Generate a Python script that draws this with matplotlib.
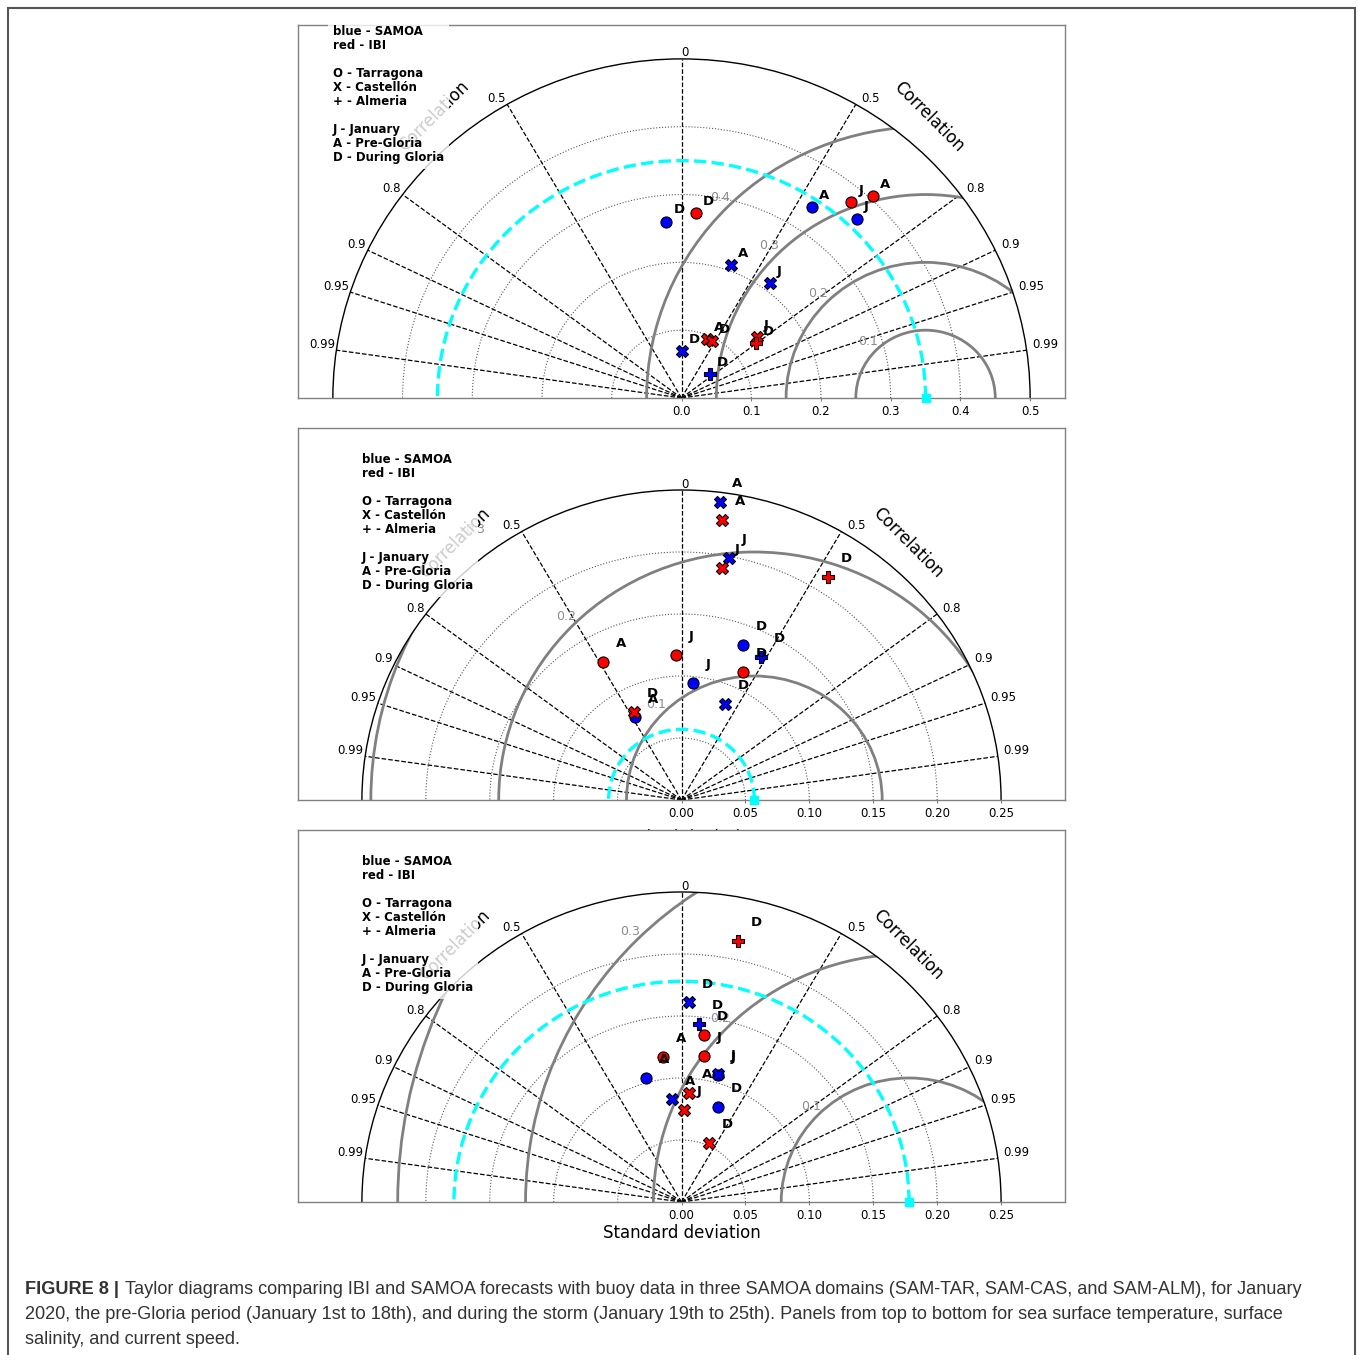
import numpy as np
import matplotlib
matplotlib.use("Agg")
import matplotlib.pyplot as plt
from matplotlib.patches import Arc, Circle, Wedge, Rectangle
from matplotlib.ticker import FormatStrFormatter

# order of the points in every panel
stations = ['Tarragona'] * 6 + ['Castellon'] * 6 + ['Almeria'] * 2
models = ['SAMOA', 'SAMOA', 'SAMOA', 'IBI', 'IBI', 'IBI'] * 2 + ['SAMOA', 'IBI']
periods = ['J', 'A', 'D'] * 4 + ['D', 'D']

# sea surface temperature
sst_std = [0.365, 0.338, 0.261, 0.378, 0.405, 0.274,
           0.212, 0.208, 0.069, 0.140, 0.094, 0.095,
           0.054, 0.134]
sst_corr = [0.689, 0.552, -0.083, 0.644, 0.677, 0.074,
            0.597, 0.343, 0.000, 0.769, 0.391, 0.460,
            0.750, 0.798]

# surface salinity
sal_std = [0.095, 0.076, 0.134, 0.117, 0.127, 0.114,
           0.199, 0.242, 0.085, 0.190, 0.228, 0.080,
           0.131, 0.213]
sal_corr = [0.097, -0.482, 0.360, -0.038, -0.485, 0.422,
            0.186, 0.123, 0.403, 0.166, 0.138, -0.463,
            0.473, 0.538]

# current speed
cur_std = [0.106, 0.104, 0.082, 0.119, 0.118, 0.136,
           0.107, 0.083, 0.161, 0.074, 0.088, 0.052,
           0.144, 0.215]
cur_corr = [0.269, -0.265, 0.349, 0.148, -0.120, 0.129,
            0.266, -0.088, 0.036, 0.024, 0.066, 0.407,
            0.093, 0.204]

ref_std = [0.35, 0.057, 0.178]
std_max = [0.5, 0.25, 0.25]
std_ticks = [[0.0, 0.1, 0.2, 0.3, 0.4, 0.5],
             [0.0, 0.05, 0.10, 0.15, 0.20, 0.25],
             [0.0, 0.05, 0.10, 0.15, 0.20, 0.25]]
tick_fmt = ['%.1f', '%.2f', '%.2f']
rms_levels = [0.1, 0.2, 0.3, 0.4]
corr_ticks = [0.0, 0.5, 0.8, 0.9, 0.95, 0.99]

marker_of = {'Tarragona': 'o', 'Castellon': 'X', 'Almeria': 'P'}
color_of = {'SAMOA': 'blue', 'IBI': 'red'}

legend_str = ("blue - SAMOA\nred - IBI\n\nO - Tarragona\nX - Castellón\n"
              "+ - Almeria\n\nJ - January\nA - Pre-Gloria\nD - During Gloria")

caption_head = "FIGURE 8 |"
caption_lines = [
    "Taylor diagrams comparing IBI and SAMOA forecasts with buoy data in three "
    "SAMOA domains (SAM-TAR, SAM-CAS, and SAM-ALM), for January",
    "2020, the pre-Gloria period (January 1st to 18th), and during the storm "
    "(January 19th to 25th). Panels from top to bottom for sea surface temperature, surface",
    "salinity, and current speed.",
]

W, H = 1358, 1355


def draw_taylor(ax, std, corr, ref, smax, ticks, fmt, margin, legend_top):
    """
Draws one half-circle Taylor diagram on a cartesian axes.
"""
    lim = margin * smax
    ax.set_xlim(-lim, lim)
    ax.set_ylim(0, lim)
    wedge = Wedge((0, 0), smax, 0, 180, transform=ax.transData)

    # standard deviation grid
    for t in ticks[1:-1]:
        ax.add_patch(Arc((0, 0), 2 * t, 2 * t, theta1=0, theta2=180,
                         color='0.35', ls=':', lw=0.8, zorder=1))
    ax.add_patch(Arc((0, 0), 2 * smax, 2 * smax, theta1=0, theta2=180,
                     color='k', lw=1.0, zorder=2))

    # correlation lines and labels
    for c in corr_ticks:
        for sign in (1, -1):
            if c == 0 and sign == -1:
                continue
            th = np.arccos(sign * c)
            xe, ye = smax * np.cos(th), smax * np.sin(th)
            ax.plot([0, xe], [0, ye], 'k--', lw=0.9, zorder=1.5)
            if sign == 1:
                dx, ha = (4 if c > 0 else 0), 'left'
            else:
                dx, ha = -1, 'right'
            ax.annotate(f'{c:g}', xy=(xe, ye), xytext=(dx, 4.3),
                        textcoords='offset points', ha=ha, va='center',
                        fontsize=8.5)
    ax.text(0.71 * smax, 0.83 * smax, 'Correlation', rotation=-45,
            ha='center', va='center', fontsize=12, zorder=3)
    ax.text(-0.71 * smax, 0.83 * smax, 'Correlation', rotation=45,
            ha='center', va='center', fontsize=12, zorder=3)

    # centred RMS difference contours
    for lev in rms_levels:
        ax.add_patch(Circle((ref, 0), lev, fill=False, ec='0.5', lw=2,
                            zorder=1.6, clip_path=wedge))
        d = lev + 0.035 * smax
        lx, ly = ref - d * np.cos(np.pi / 4), d * np.sin(np.pi / 4)
        cx, cy = ref - lev * np.cos(np.pi / 4), lev * np.sin(np.pi / 4)
        if np.hypot(cx, cy) < 1.1 * smax:
            ax.text(lx, ly, f'{lev:g}', color='0.55', fontsize=9,
                    ha='center', va='center', zorder=1.7)

    # reference
    ax.add_patch(Arc((0, 0), 2 * ref, 2 * ref, theta1=0, theta2=180,
                     color='cyan', ls='--', lw=2.4, zorder=2.2))
    ax.plot([ref], [0], 's', color='cyan', ms=6, clip_on=False, zorder=5)

    # models
    for s, c, st, mo, pe in zip(std, corr, stations, models, periods):
        th = np.arccos(c)
        x, y = s * np.cos(th), s * np.sin(th)
        ax.plot(x, y, marker=marker_of[st], color=color_of[mo], mec='k',
                mew=0.8, ms=8, ls='none', zorder=3)
        ax.text(x + 0.01, y + 0.012, pe, fontsize=9.5, fontweight='bold',
                ha='left', va='baseline', zorder=4)

    ax.text(-smax, legend_top * smax, legend_str, ha='left', va='top',
            fontsize=8.5, fontweight='bold', linespacing=1.1, zorder=10,
            bbox=dict(boxstyle='square,pad=0.4', fc='white', ec='none',
                      alpha=0.8))

    ax.set_xticks(ticks)
    ax.xaxis.set_major_formatter(FormatStrFormatter(fmt))
    ax.set_yticks([])
    ax.tick_params(axis='x', length=2, color='0.5', pad=3, labelsize=8.5)
    for sp in ax.spines.values():
        sp.set_color('0.5')
        sp.set_linewidth(1.0)


def main():
    """
Builds the three stacked Taylor diagrams and the caption.
"""
    fig = plt.figure(figsize=(W / 100, H / 100), dpi=100)
    panels = [(sst_std, sst_corr), (sal_std, sal_corr), (cur_std, cur_corr)]
    tops = [25, 428, 830]
    bottoms = [398, 800, 1202]
    margins = [1.1, 1.2, 1.2]
    legend_tops = [1.1, 1.12, 1.12]
    label_pads = [None, 6.5, 1.5]
    for i, (std, corr) in enumerate(panels):
        ax = fig.add_axes([298 / W, 1 - bottoms[i] / H, 767 / W,
                           (bottoms[i] - tops[i]) / H])
        draw_taylor(ax, std, corr, ref_std[i], std_max[i], std_ticks[i],
                    tick_fmt[i], margins[i], legend_tops[i])
        if label_pads[i] is not None:
            ax.set_xlabel('Standard deviation', fontsize=12,
                          labelpad=label_pads[i])

    # caption
    cap_font = ['Liberation Sans', 'DejaVu Sans']
    renderer = fig.canvas.get_renderer()
    probe = fig.text(0, 0, caption_lines[1], fontsize=12, family=cap_font)
    width = probe.get_window_extent(renderer).width
    probe.remove()
    cap_size = 12 * 1265 / width
    baselines = [1294, 1319, 1344]
    head = fig.text(25 / W, 1 - baselines[0] / H, caption_head,
                    fontsize=cap_size, fontweight='bold', family=cap_font,
                    color='#333333', va='baseline')
    bb = head.get_window_extent(renderer)
    for j, line in enumerate(caption_lines):
        x0 = (bb.x1 + 6) / W if j == 0 else 25 / W
        fig.text(x0, 1 - baselines[j] / H, line, fontsize=cap_size,
                 family=cap_font, color='#333333', va='baseline')

    fig.add_artist(Rectangle((8 / W, -0.01), (1355 - 8) / W, 1 - 8 / H + 0.01,
                             transform=fig.transFigure, fill=False,
                             ec='#555555', lw=1.5))
    fig.savefig('out.png', dpi=100)


if __name__ == "__main__":
    main()
